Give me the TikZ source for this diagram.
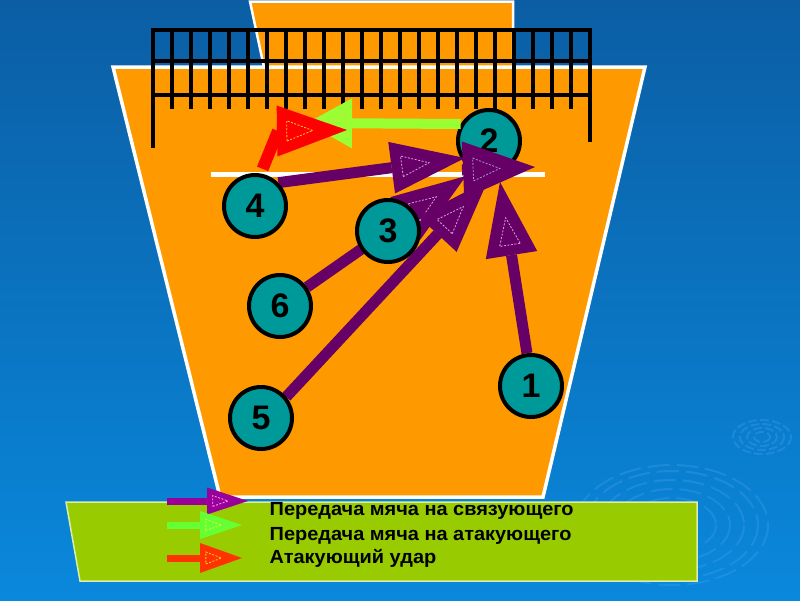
\documentclass[tikz,border=0pt]{standalone}
\usepackage{fontspec}
\setmainfont{Liberation Sans}
\newfontfamily\legfont[FakeStretch=1.05]{Liberation Sans}
\usetikzlibrary{arrows.meta,decorations.markings}
\definecolor{bgtop}{HTML}{0B5EA4}
\definecolor{bgbot}{HTML}{0A88DC}
\definecolor{court}{HTML}{FF9900}
\definecolor{tealc}{HTML}{009999}
\definecolor{purp}{HTML}{660066}
\definecolor{limeg}{HTML}{99FF33}
\definecolor{redA}{HTML}{FF0000}
\definecolor{legbox}{HTML}{99CC00}
\definecolor{legpurp}{HTML}{990099}
\definecolor{leggreen}{HTML}{66FF33}
\definecolor{legred}{HTML}{FF3300}
\definecolor{ripple}{HTML}{3A9BEA}
\definecolor{inpink}{HTML}{D9A3D9}
\definecolor{inblue}{HTML}{9A9AD6}
\definecolor{inyel}{HTML}{FFCC33}
\definecolor{ingreen}{HTML}{C2E23A}
\definecolor{inlpink}{HTML}{FF9FFF}
\definecolor{inlgreen}{HTML}{CCFF33}
\pgfdeclarelayer{back}
\pgfdeclarelayer{ctwo}
\pgfdeclarelayer{arr}
\pgfsetlayers{back,ctwo,arr,main}
\tikzset{
  innertri/.style n args={3}{postaction={decorate},decoration={markings,
    mark=at position 1 with {\draw[-,draw=#1,line width=0.8pt,dash pattern=on 2pt off 1.5pt,line join=miter]
      ({-0.86*#2},{0.2*#3}) -- ({-0.49*#2},0) -- ({-0.86*#2},{-0.2*#3}) -- cycle;}}},
  pass/.style={draw=purp,line width=11pt,-{Triangle[length=74pt,width=52pt,line width=0pt]},innertri={inpink}{74}{52}},
  bighead/.style={draw=purp,line width=11pt,-{Triangle[length=72pt,width=57pt,line width=0pt]},innertri={inblue}{72}{57}},
  setpass/.style={draw=limeg,line width=10pt,-{Triangle[length=45pt,width=50pt,line width=0pt]},innertri={ingreen}{45}{50}},
  attack/.style={draw=redA,line width=12pt,line join=miter,-{Triangle[length=70pt,width=51pt,line width=0pt]},innertri={inyel}{70}{51}},
  legp/.style={draw=legpurp,line width=7pt,-{Triangle[length=41pt,width=27pt,line width=0pt]},innertri={inlpink}{41}{27}},
  legg/.style={draw=leggreen,line width=7pt,-{Triangle[length=42pt,width=28pt,line width=0pt]},innertri={inlgreen}{42}{28}},
  legr/.style={draw=legred,line width=7pt,-{Triangle[length=42pt,width=30pt,line width=0pt]},innertri={inyel}{42}{30}},
  player/.style={circle,fill=tealc,draw=black,line width=4pt,minimum size=62pt,inner sep=0pt,
    font=\fontsize{34}{34}\selectfont\bfseries},
  legtext/.style={anchor=base west,inner sep=0pt,font=\legfont\fontsize{19}{19}\selectfont\bfseries},
  netline/.style={draw=black,line width=4pt},
  rip/.style={draw=ripple,line width=2pt,opacity=0.4,dash pattern=on 22pt off 7pt}
}
\begin{document}
\begin{tikzpicture}[x=1pt,y=-1pt]
\useasboundingbox (0,0) rectangle (800,600);
\begin{pgfonlayer}{back}
% background
\shade[top color=bgtop,bottom color=bgbot] (0,0) rectangle (800,600);
% ripples
\foreach \a/\b in {8/5,15/9,22/13,29/17}{\draw[rip,dash pattern=on 9pt off 3pt] (762,437) ellipse ({\a} and {\b});}
\foreach \a/\b in {44/27,58/36,72/45,86/54,96/60}{\draw[rip] (672,525) ellipse ({\a} and {\b});}
% far court
\draw[fill=court,draw=white,line width=2.5pt] (250,1.5) -- (513,1.5) -- (513,72) -- (265,72) -- cycle;
% main court
\draw[fill=court,draw=white,line width=3.5pt,line join=miter] (113,67) -- (645,67) -- (543,497) -- (220,497) -- cycle;
% attack line
\draw[white,line width=5pt] (211,174) -- (545,174);
% net
\draw[netline,line join=miter] (153,148) -- (153,30) -- (590,30) -- (590,142);
\draw[netline] (153,61) -- (590,61);
\draw[netline] (153,95) -- (590,95);
\foreach \i in {1,...,22}{\draw[netline] ({153+19*\i},30) -- ({153+19*\i},109);}
% legend box
\draw[fill=legbox,draw=white!65!legbox,line width=1.5pt] (66,502) -- (697,502) -- (697,581) -- (80,581) -- cycle;
\end{pgfonlayer}
\begin{pgfonlayer}{ctwo}
\node[player] (n2) at (489,141) {2};
\end{pgfonlayer}
% players
\node[player] (n1) at (531,386) {1};
\node[player] (n3) at (388,231) {3};
\node[player] (n4) at (255,206) {4};
\node[player] (n5) at (261,418) {5};
\node[player] (n6) at (280,306) {6};
% arrow end points
\coordinate (t6) at (466,176);
\coordinate (t5) at (488,180);
\coordinate (t4) at (465,158);
\coordinate (t1) at (500,182);
\coordinate (b2) at (462,170);
\coordinate (t2) at (535,167);
\coordinate (tg) at (307,123);
\coordinate (rb) at (278,131);
\coordinate (rt) at (347,130);
\begin{pgfonlayer}{arr}
\draw[pass] (n6.35) -- (t6);
\draw[pass] (n5.40) -- (t5);
\draw[pass] (n4.45) -- (t4);
\draw[pass] (n1.97) -- (t1);
\draw[bighead] (b2) -- (t2);
\draw[setpass] (n2.149) -- (tg);
\draw[attack,shorten <=5pt] (n4.80) -- (rb) -- (rt);
\end{pgfonlayer}
% legend
\coordinate (lpa) at (167,501); \coordinate (lpb) at (248,501);
\coordinate (lga) at (167,525); \coordinate (lgb) at (242,525);
\coordinate (lra) at (167,558); \coordinate (lrb) at (242,558);
\draw[legp] (lpa) -- (lpb);
\draw[legg] (lga) -- (lgb);
\draw[legr] (lra) -- (lrb);
\node[legtext] (lt1) at (269.5,515) {Передача мяча на связующего};
\node[legtext] (lt2) at (269.5,540) {Передача мяча на атакующего};
\node[legtext] (lt3) at (269.5,563.5) {Атакующий удар};
\end{tikzpicture}
\end{document}
